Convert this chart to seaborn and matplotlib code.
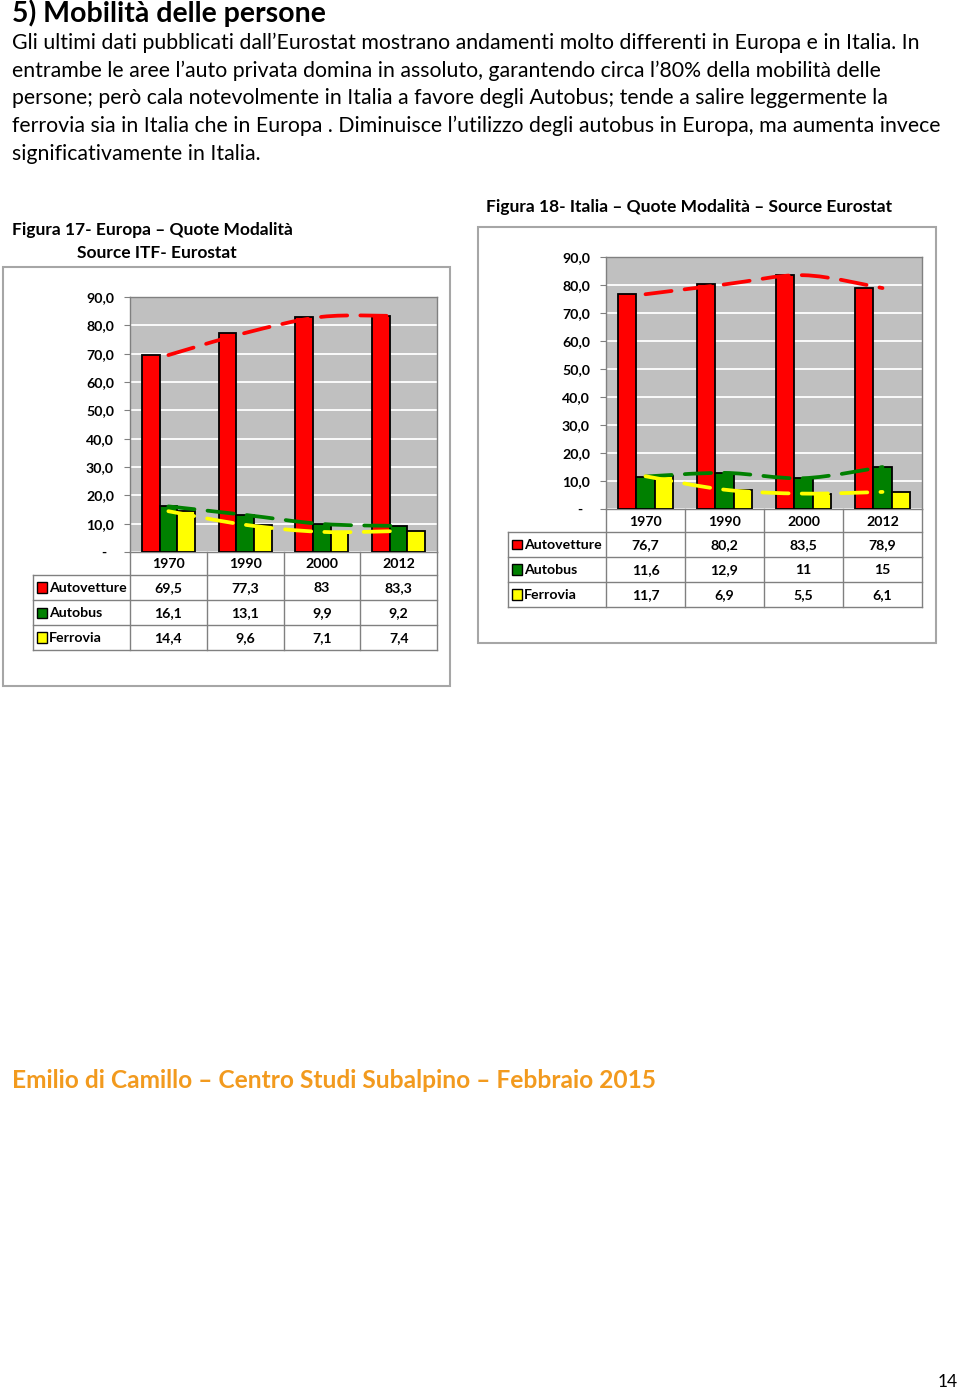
import numpy as np
import pandas as pd
import matplotlib
matplotlib.use("Agg")
import matplotlib.pyplot as plt
import seaborn as sns
from matplotlib.patches import Rectangle, PathPatch
from matplotlib.path import Path
from matplotlib.lines import Line2D

# ---------------- data ----------------
years = ["1970", "1990", "2000", "2012"]
modes = ["Autovetture", "Autobus", "Ferrovia"]
europa_auto = [69.5, 77.3, 83.0, 83.3]
europa_bus = [16.1, 13.1, 9.9, 9.2]
europa_rail = [14.4, 9.6, 7.1, 7.4]
italia_auto = [76.7, 80.2, 83.5, 78.9]
italia_bus = [11.6, 12.9, 11.0, 15.0]
italia_rail = [11.7, 6.9, 5.5, 6.1]
y_ticks = [0, 10, 20, 30, 40, 50, 60, 70, 80, 90]
y_tick_labels = ["-  ", "10,0", "20,0", "30,0", "40,0", "50,0", "60,0", "70,0", "80,0", "90,0"]
mode_colors = ["#FF0000", "#008000", "#FFFF00"]

title = "5) Mobilità delle persone"
paragraph = [
    "Gli ultimi dati pubblicati dall\u2019Eurostat mostrano andamenti molto differenti in Europa e in Italia. In",
    "entrambe le aree l\u2019auto privata domina in assoluto, garantendo circa l\u201980% della mobilità delle",
    "persone; però cala notevolmente in Italia a favore degli Autobus; tende a salire leggermente la",
    "ferrovia sia in Italia che in Europa . Diminuisce l\u2019utilizzo degli autobus in Europa, ma aumenta invece",
    "significativamente in Italia.",
]
caption17 = ["Figura 17- Europa \u2013 Quote Modalità", "Source ITF- Eurostat"]
caption18 = "Figura 18- Italia \u2013 Quote Modalità \u2013 Source Eurostat"
footer = "Emilio di Camillo \u2013 Centro Studi Subalpino \u2013 Febbraio 2015"
page_number = "14"

# ---------------- figure ----------------
W, H = 960, 1391
plt.rcParams['font.family'] = ['Lato', 'DejaVu Sans']
fig = plt.figure(figsize=(W / 100, H / 100), dpi=100)
fig.patch.set_facecolor("white")
renderer = fig.canvas.get_renderer()

TABLE_FS = 10.2


def fx(px):
    return px / W


def fy(py):
    return 1 - py / H


def ftext(x, y, s, **kw):
    return fig.text(fx(x), fy(y), s, **kw)


def fline(x0, y0, x1, y1, color="#808080", lw=1.0):
    fig.add_artist(Line2D([fx(x0), fx(x1)], [fy(y0), fy(y1)],
                          transform=fig.transFigure, color=color, lw=lw))


def frect(x0, y0, x1, y1, **kw):
    fig.add_artist(Rectangle((fx(x0), fy(y1)), fx(x1) - fx(x0), fy(y0) - fy(y1),
                             transform=fig.transFigure, **kw))


def fit(t, target_w):
    bb = t.get_window_extent(renderer)
    t.set_fontsize(t.get_fontsize() * target_w / bb.width)
    return t.get_fontsize()


def smooth_path(xs, ys):
    pts = np.column_stack([xs, ys]).astype(float)
    n = len(pts)
    verts = [pts[0]]
    codes = [Path.MOVETO]
    for i in range(n - 1):
        p0 = pts[i - 1] if i > 0 else pts[i]
        p1, p2 = pts[i], pts[i + 1]
        p3 = pts[i + 2] if i + 2 < n else pts[i + 1]
        c1 = p1 + (p2 - p0) / 6
        c2 = p2 - (p3 - p1) / 6
        verts += [c1, c2, p2]
        codes += [Path.CURVE4] * 3
    return Path(verts, codes)


def fmt(v):
    return f"{v:g}".replace(".", ",")


# ---------------- text ----------------
t = ftext(12, 13.5, title, fontsize=18, fontweight="bold", va="center", ha="left", color="black")
fit(t, 315)

t = ftext(12, 43, paragraph[0], fontsize=13, va="center", ha="left", color="black")
ps = fit(t, 901)
for i, line in enumerate(paragraph[1:], start=1):
    ftext(12, 43 + i * 27.7, line, fontsize=ps, va="center", ha="left", color="black")

t = ftext(12, 230, caption17[0], fontsize=11, fontweight="bold", va="center", ha="left")
cs = fit(t, 280)
ftext(77, 253, caption17[1], fontsize=cs, fontweight="bold", va="center", ha="left")
t = ftext(486, 207, caption18, fontsize=cs, fontweight="bold", va="center", ha="left")
fit(t, 405)

t = ftext(12, 1080, footer, fontsize=15, fontweight="bold", va="center", ha="left", color="#F29A1E")
fit(t, 647)
ftext(958, 1382, page_number, fontsize=12.5, va="center", ha="right", color="black")


# ---------------- charts ----------------
def chart(auto, bus, rail, box, frame, label_left, header_h=23, row_h=25):
    L, T, R, B = box
    frect(*frame, fill=False, edgecolor="#A6A6A6", lw=1.5)
    ax = fig.add_axes([fx(L), fy(B), fx(R) - fx(L), fy(T) - fy(B)])
    df = pd.DataFrame({
        "Anno": years * 3,
        "Modo": np.repeat(modes, len(years)),
        "Quota": list(auto) + list(bus) + list(rail),
    })
    sns.barplot(data=df, x="Anno", y="Quota", hue="Modo", hue_order=modes,
                palette=mode_colors, saturation=1, width=0.69, gap=0,
                edgecolor="black", linewidth=1.3, legend=False, ax=ax, zorder=3)
    ax.set_xlim(-0.5, len(years) - 0.5)
    ax.set_ylim(0, 90)
    ax.set_facecolor("#C0C0C0")
    ax.set_yticks(y_ticks)
    ax.set_yticklabels(y_tick_labels, fontweight="bold", fontsize=TABLE_FS)
    ax.yaxis.grid(True, color="white", lw=1.3, zorder=0)
    ax.set_axisbelow(True)
    ax.tick_params(axis="y", direction="out", length=4, color="#808080", pad=7.5)
    ax.set_xticks([])
    ax.set_xlabel("")
    ax.set_ylabel("")
    for s in ax.spines.values():
        s.set_color("#808080")
        s.set_linewidth(1.0)
    xs = np.arange(len(years))
    for vals, col in zip([auto, bus, rail], mode_colors):
        ax.add_patch(PathPatch(smooth_path(xs, vals), fill=False, edgecolor=col,
                               lw=2.7, linestyle=(0, (7, 3.5)), capstyle="round",
                               zorder=5))

    # table
    ncol = len(years)
    cols = [L + (R - L) * i / ncol for i in range(ncol + 1)]
    y_hdr = B + header_h
    rows = [y_hdr + k * row_h for k in range(len(modes) + 1)]
    bottom = rows[-1]
    for cx in cols:
        fline(cx, B, cx, bottom)
    fline(label_left, y_hdr, label_left, bottom)
    for ry in rows:
        fline(label_left, ry, R, ry)
    for i, yr in enumerate(years):
        ftext((cols[i] + cols[i + 1]) / 2, B + header_h / 2 + 1, yr,
              fontsize=TABLE_FS, fontweight="bold", ha="center", va="center")
    for k, (m, vals, col) in enumerate(zip(modes, [auto, bus, rail], mode_colors)):
        cy = rows[k] + row_h / 2
        frect(label_left + 4, cy - 5, label_left + 14, cy + 5, facecolor=col,
              edgecolor="black", lw=1.0)
        ftext(label_left + 16, cy + 0.5, m, fontsize=TABLE_FS, fontweight="bold",
              ha="left", va="center")
        for i, v in enumerate(vals):
            ftext((cols[i] + cols[i + 1]) / 2, cy + 0.5, fmt(v), fontsize=TABLE_FS,
                  fontweight="bold", ha="center", va="center")
    return ax


chart(europa_auto, europa_bus, europa_rail,
      box=(130, 297, 437, 552), frame=(3, 267, 450, 686), label_left=33)
chart(italia_auto, italia_bus, italia_rail,
      box=(606, 257, 922, 509), frame=(478, 227, 936, 643), label_left=508)

fig.savefig("out.png", dpi=100, facecolor="white")
